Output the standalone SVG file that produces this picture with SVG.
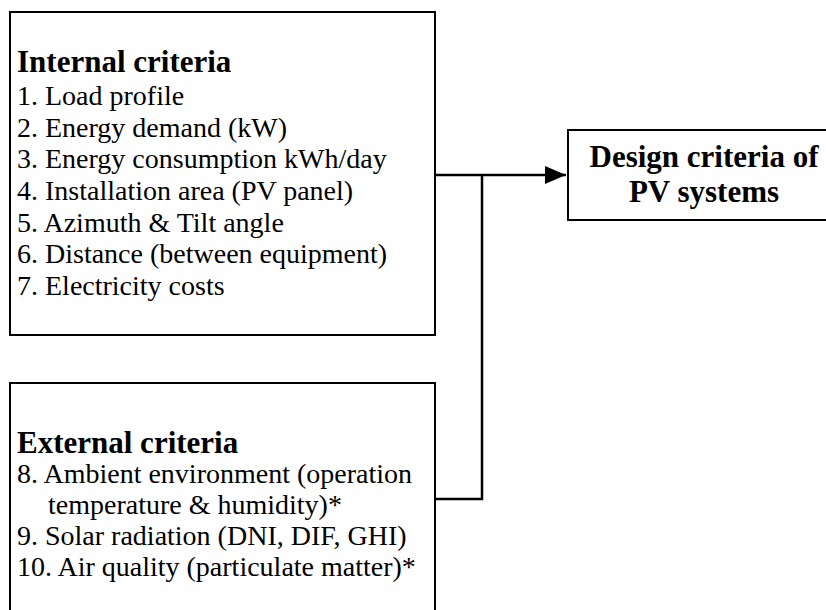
<svg xmlns="http://www.w3.org/2000/svg" width="826" height="610" viewBox="0 0 826 610">
  <defs>
    <marker id="arrowhead" markerWidth="21" markerHeight="18" refX="21" refY="9" orient="auto" markerUnits="userSpaceOnUse">
      <path d="M0,0 L21,9 L0,18 Z" fill="#000"/>
    </marker>
  </defs>
  <style>
    .box { fill: #fff; stroke: #000; stroke-width: 2; }
    .link { fill: none; stroke: #000; stroke-width: 2.5; }
    .head { font-family: "Liberation Serif", "Times New Roman", serif; font-weight: bold; font-size: 31px; fill: #000; }
    .item { font-family: "Liberation Serif", "Times New Roman", serif; font-size: 28px; fill: #000; }
  </style>
  <rect width="826" height="610" fill="#fff"/>

  <!-- Connectors -->
  <g id="connectors">
    <path class="link" d="M435,175 H566" marker-end="url(#arrowhead)"/>
    <path class="link" d="M435,499 H482 V175"/>
  </g>

  <!-- Internal criteria -->
  <g id="internal-criteria">
    <rect class="box" x="10" y="12" width="425" height="323"/>
    <text class="head" x="17" y="72">Internal criteria</text>
    <text class="item" x="17" y="105">1. Load profile</text>
    <text class="item" x="17" y="136.7">2. Energy demand (kW)</text>
    <text class="item" x="17" y="168.3">3. Energy consumption kWh/day</text>
    <text class="item" x="17" y="200">4. Installation area (PV panel)</text>
    <text class="item" x="17" y="231.7">5. Azimuth &amp; Tilt angle</text>
    <text class="item" x="17" y="263.3">6. Distance (between equipment)</text>
    <text class="item" x="17" y="295">7. Electricity costs</text>
  </g>

  <!-- External criteria -->
  <g id="external-criteria">
    <rect class="box" x="10" y="383" width="425" height="240"/>
    <text class="head" x="17" y="453">External criteria</text>
    <text class="item" x="17" y="483">8. Ambient environment (operation</text>
    <text class="item" x="48" y="514">temperature &amp; humidity)*</text>
    <text class="item" x="17" y="545">9. Solar radiation (DNI, DIF, GHI)</text>
    <text class="item" x="17" y="576">10. Air quality (particulate matter)*</text>
  </g>

  <!-- Design criteria -->
  <g id="design-criteria">
    <rect class="box" x="568" y="130" width="272" height="90"/>
    <text class="head" x="704" y="166.5" text-anchor="middle">Design criteria of</text>
    <text class="head" x="704" y="201.5" text-anchor="middle">PV systems</text>
  </g>
</svg>
